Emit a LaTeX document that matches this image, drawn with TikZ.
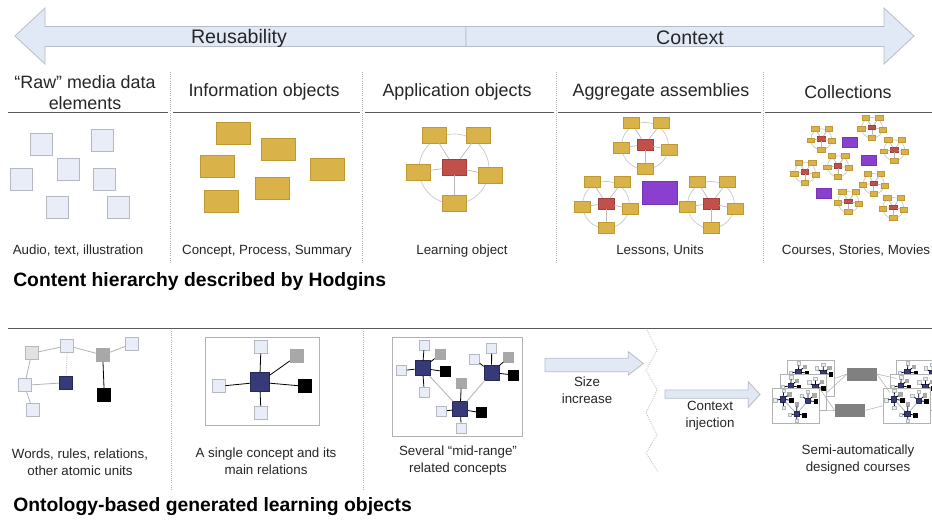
\documentclass[tikz,border=0pt]{standalone}
\usepackage{fontspec}
\setmainfont{Liberation Sans}

\definecolor{mediablue}{HTML}{E8EDF7}
\definecolor{edgegray}{HTML}{B4B8C0}
\definecolor{gold}{HTML}{D9B24A}
\definecolor{golddark}{HTML}{BE9835}
\definecolor{corered}{HTML}{C1504A}
\definecolor{reddark}{HTML}{A13F3A}
\definecolor{unitpurple}{HTML}{8B3FCF}
\definecolor{navy}{HTML}{363A78}
\definecolor{midgray}{HTML}{A8A8A8}
\definecolor{palegray}{HTML}{E2E2E2}
\definecolor{arrowfill}{HTML}{E2E9F6}
\definecolor{arrowline}{HTML}{B8BCC4}

\tikzset{
  axisarrow/.style={draw=arrowline, fill=arrowfill, line width=0.6pt},
  axis/.style={font=\fontsize{14.7}{17}\selectfont, text=black!85, inner sep=0pt},
  head/.style={font=\fontsize{13.4}{15.75}\selectfont, text=black!85, align=center, inner sep=0pt},
  note/.style={font=\fontsize{10}{12.75}\selectfont, text=black!85, align=center, inner sep=0pt},
  banner/.style={font=\fontsize{14.5}{17}\selectfont\bfseries, anchor=base west, inner sep=0pt},
  rule/.style={draw=black!65, line width=0.75pt},
  divider/.style={draw=black!30, densely dotted, line width=0.6pt},
  media/.style={draw=edgegray, fill=mediablue, minimum size=16.5pt, inner sep=0pt},
  infobox/.style={draw=golddark, fill=gold, minimum width=25.5pt, minimum height=16.5pt, inner sep=0pt},
  leaf/.style={draw=golddark, fill=gold, minimum width=18pt, minimum height=12pt, inner sep=0pt, line width=0.4pt},
  core/.style={draw=reddark, fill=corered, minimum width=18pt, minimum height=12pt, inner sep=0pt, line width=0.4pt},
  unit/.style={draw=unitpurple!85!black, fill=unitpurple, minimum width=#1, minimum height=0.66*#1, inner sep=0pt},
  ring/.style={draw=black!22, line width=0.5pt},
  spoke/.style={draw=black!28, line width=0.5pt},
  onto/.style={inner sep=0pt, minimum size=#1, draw=edgegray, fill=mediablue, line width=0.5pt},
  onto/.default=7.5pt,
  hub/.style={onto=#1, draw=navy!70!black, fill=navy},
  hub/.default=11.25pt,
  rel/.style={onto=#1, draw=midgray, fill=midgray},
  rel/.default=7.5pt,
  dark/.style={onto=#1, draw=black, fill=black},
  dark/.default=7.5pt,
  pale/.style={onto=#1, draw=edgegray, fill=palegray},
  pale/.default=7.5pt,
  tie/.style={draw=black, line width=0.6pt},
  faint/.style={draw=black!30, line width=0.6pt},
  frame/.style={draw=black!30, fill=white, inner sep=0pt, line width=0.6pt},
  module/.style={draw=black!50, fill=black!50, minimum width=22pt, minimum height=9.2pt, inner sep=0pt},
  lobj/.pic={
    \draw[ring] (0,2) circle[radius=35];
    \node[core] (-c) at (0,0) {};
    \foreach \i/\dx/\dy in {1/-20/-32, 2/24/-32, 3/-36/5, 4/36/8, 5/0/36}{
      \node[leaf] (-\i) at (\dx,\dy) {};
      \draw[spoke] (-c) -- (-\i);
    }
  },
  midrange/.pic={
    \node[frame, minimum width=97.5pt, minimum height=74pt] (-f) at (0,0) {};
    \node[hub] (-a) at (-35.2,-18.4) {};
    \node[hub] (-b) at (33.8,-14.2) {};
    \node[hub] (-c) at (2.5,22.5) {};
    \draw[faint] (-a) -- (-c);
    \draw[faint] (-b) -- (-c);
    \node[onto] (-a1) at (-33.4,-41.7) {};
    \node[rel]  (-a2) at (-17.7,-32.4) {};
    \node[onto] (-a3) at (-56.4,-16) {};
    \node[dark] (-a4) at (-12,-15) {};
    \node[onto] (-a5) at (-33.4,5.3) {};
    \node[onto] (-b1) at (34,-38.4) {};
    \node[rel]  (-b2) at (51,-29.4) {};
    \node[onto] (-b3) at (16.6,-27.7) {};
    \node[dark] (-b4) at (55.6,-11.7) {};
    \node[rel]  (-c1) at (3.6,-3.4) {};
    \node[onto] (-c2) at (-16,24.6) {};
    \node[dark] (-c3) at (23.6,26.1) {};
    \node[onto] (-c4) at (3.6,41.3) {};
    \foreach \k in {1,...,5} \draw[tie] (-a) -- (-a\k);
    \foreach \k in {1,...,4} \draw[tie] (-b) -- (-b\k);
    \foreach \k in {1,...,4} \draw[tie] (-c) -- (-c\k);
  }
}

\begin{document}
\begin{tikzpicture}[x=0.75pt, y=-0.75pt]
  \clip (0,0) rectangle (932,521);
  \fill[white] (0,0) rectangle (932,521);

  % top axis
  \draw[axisarrow] (466,26.5) -- (45,26.5) -- (45,8) -- (15,36) -- (45,64) -- (45,46.5) -- (466,46.5) -- cycle;
  \draw[axisarrow] (466,26.5) -- (884,26.5) -- (884,8) -- (914,36) -- (884,64) -- (884,46.5) -- (466,46.5) -- cycle;
  \node[axis] (reuse) at (239,38) {Reusability};
  \node[axis] (context) at (690,38) {Context};

  % column heads
  \node[head] (rawhead) at (85,93) {“Raw” media data\\elements};
  \node[head] (infohead) at (264,92) {Information objects};
  \node[head] (apphead) at (457,92) {Application objects};
  \node[head] (agghead) at (661,92) {Aggregate assemblies};
  \node[head] (colhead) at (848,92) {Collections};
  \foreach \a/\b in {8/168, 173/360, 365/554, 558/761, 765/932}
    \draw[rule] (\a,112) -- (\b,112);
  \foreach \x in {170,362,556,763}
    \draw[divider] (\x,72) -- (\x,262);

  % raw media
  \foreach \x/\y [count=\i] in {41.5/144, 102/140.5, 68/169, 21/179.5, 104/179.5, 57.5/207, 118/207}
    \node[media] (raw\i) at (\x,\y) {};

  % information objects
  \foreach \x/\y [count=\i] in {233.5/133, 278/149.5, 217/166.5, 327/169.5, 272/188.5, 221/201.5}
    \node[infobox] (info\i) at (\x,\y) {};

  % application object
  \pic (learn) at (454,167) {lobj};

  % aggregate assemblies
  \pic[scale=0.67, transform shape] (lessonA) at (645,144.5) {lobj};
  \pic[scale=0.67, transform shape] (lessonB) at (606,203.5) {lobj};
  \pic[scale=0.67, transform shape] (lessonC) at (711,203.5) {lobj};
  \node[unit=26.25pt] (unitA) at (659.5,193) {};

  % collections
  \foreach \p [count=\i] in {(821.3,138.7), (872,127.3), (894.3,149.7), (805,172),
                             (838,165.7), (873.7,183.3), (848.3,201.3), (893.3,207.3)}
    \pic[scale=0.3, transform shape] (course\i) at \p {lobj};
  \node[unit=11.25pt] (storyA) at (850,142.7) {};
  \node[unit=11.25pt] (storyB) at (869,160.7) {};
  \node[unit=11.25pt] (storyC) at (824,193) {};

  \node[note] (rawnote) at (78,251) {Audio, text, illustration};
  \node[note] (infonote) at (267,251) {Concept, Process, Summary};
  \node[note] (appnote) at (462,251) {Learning object};
  \node[note] (aggnote) at (660,251) {Lessons, Units};
  \node[note] (colnote) at (856,251) {Courses, Stories, Movies};
  \node[banner] (hodgins) at (13,286) {Content hierarchy described by Hodgins};

  % ontology part
  \draw[rule] (8,328) -- (932,328);
  \foreach \x in {171,363}
    \draw[divider] (\x,331) -- (\x,490);

  \node[pale=9.75pt] (word) at (31.7,353.3) {};
  \node[onto=9.75pt] (rela) at (67.3,345.7) {};
  \node[rel=9.75pt] (relb) at (102.7,355) {};
  \node[onto=9.75pt] (relc) at (131.7,344) {};
  \node[onto=9.75pt] (reld) at (24.5,385.3) {};
  \node[hub=9.75pt] (atom) at (66,382.7) {};
  \node[dark=9.75pt] (rele) at (104.3,395) {};
  \node[onto=9.75pt] (relf) at (32.8,410.3) {};
  \draw[faint] (word) -- (rela);
  \draw[faint] (rela) -- (relb);
  \draw[faint] (relb) -- (relc);
  \draw[faint] (word) -- (reld);
  \draw[faint] (reld) -- (atom);
  \draw[faint] (reld) -- (relf);
  \draw[faint, densely dotted] (rela) -- (atom);
  \draw[tie] (relb) -- (rele);

  \node[frame, minimum width=85pt, minimum height=65.5pt] (single) at (262.3,381.3) {};
  \node[hub=14.25pt] (concept) at (259.7,382.3) {};
  \node[onto=9.75pt] (cup) at (261,346.7) {};
  \node[rel=9.75pt] (cside) at (296.7,356) {};
  \node[onto=9.75pt] (cleft) at (218.7,386.3) {};
  \node[dark=9.75pt] (cright) at (305,386.3) {};
  \node[onto=9.75pt] (cdown) at (261,413) {};
  \foreach \n in {cup,cside,cleft,cright,cdown}
    \draw[tie] (concept) -- (\n);

  \pic (several) at (457.7,386.7) {midrange};

  % size increase
  \draw[axisarrow] (545,358.3) -- (628.3,358.3) -- (628.3,351.7) -- (643.3,363.5) -- (628.3,375) -- (628.3,371.7) -- (545,371.7) -- cycle;
  \node[note] (sizenote) at (587,390.5) {Size\\increase};
  \draw[divider] (647,330) -- (657,350) -- (646,370) -- (657,390) -- (646,413) -- (657,435) -- (646,453) -- (658,472);

  % context injection
  \draw[axisarrow] (665,390) -- (748.3,390) -- (748.3,381.7) -- (760,394.5) -- (748.3,407.3) -- (748.3,398.3) -- (665,398.3) -- cycle;
  \node[note] (ctxnote) at (710,416) {Context\\injection};

  % courses
  \pic[scale=0.36, transform shape] (backL) at (811,378.5) {midrange};
  \pic[scale=0.36, transform shape] (midL) at (803.3,392.5) {midrange};
  \pic[scale=0.36, transform shape] (frontL) at (795.7,405.8) {midrange};
  \pic[scale=0.36, transform shape] (backR) at (920,378.5) {midrange};
  \pic[scale=0.36, transform shape] (midR) at (913.3,392.5) {midrange};
  \pic[scale=0.36, transform shape] (frontR) at (906.6,405.8) {midrange};
  \node[module] (modA) at (862,374) {};
  \node[module] (modB) at (849.6,410.5) {};
  \draw[faint, line width=0.4pt] (modA.west) -- (backL-f.east);
  \draw[faint, line width=0.4pt] (modA.west) -- (midL-f.east);
  \draw[faint, line width=0.4pt] (modB.west) -- (frontL-f.north east);
  \draw[faint, line width=0.4pt] (modB.west) -- (midL-f.south east);
  \draw[faint, line width=0.4pt] (modA.east) -- (backR-f.west);
  \draw[faint, line width=0.4pt] (modA.east) -- (midR-f.west);
  \draw[faint, line width=0.4pt] (modB.east) -- (frontR-f.west);

  \node[note] (wordnote) at (80,462) {Words, rules, relations,\\other atomic units};
  \node[note] (singlenote) at (266,461) {A single concept and its\\main relations};
  \node[note] (severalnote) at (458,461) {Several “mid-range”\\related concepts};
  \node[note] (coursenote) at (858,460) {Semi-automatically\\designed courses};
  \node[banner] (ontology) at (13,511) {Ontology-based generated learning objects};
\end{tikzpicture}
\end{document}
